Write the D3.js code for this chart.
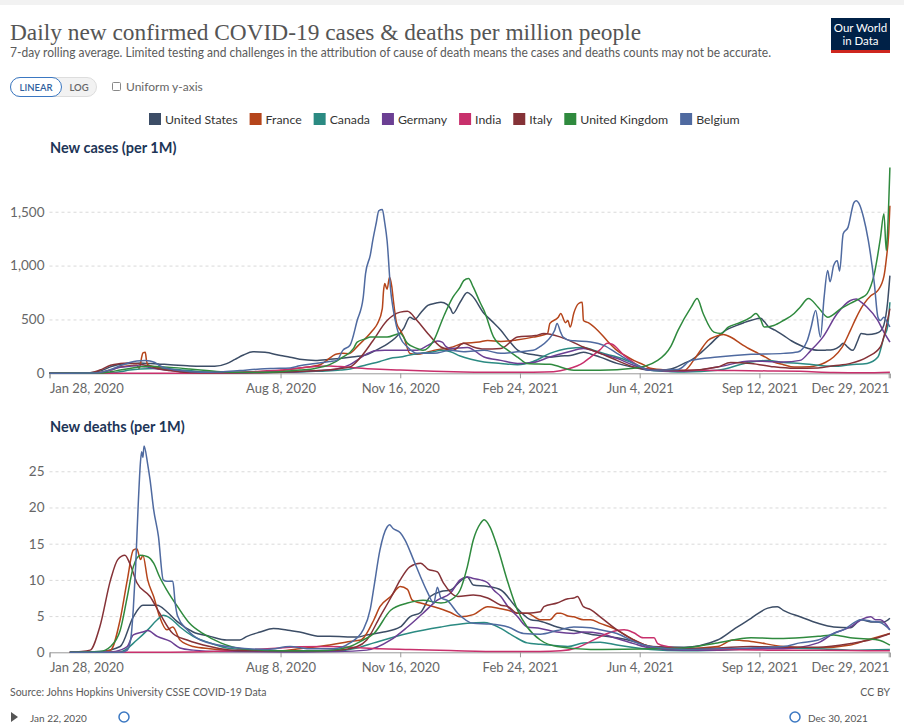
<!DOCTYPE html>
<html><head><meta charset="utf-8">
<script src="https://cdn.jsdelivr.net/npm/d3@7"></script>
<style>body{margin:0;background:#fff}svg{display:block;font-family:Lato,'Noto Sans',sans-serif}</style>
</head><body><svg id="c" width="904" height="725"></svg>
<script>
// ---------- DATA ----------
const startDate = "2020-01-28";   // day 0 of the [day, value] pairs below
const endDate = "2021-12-30";
const tickDates = ["2020-01-28","2020-08-08","2020-11-16","2021-02-24","2021-06-04","2021-09-12","2021-12-29"];
const tickLabels = ["Jan 28, 2020","Aug 8, 2020","Nov 16, 2020","Feb 24, 2021","Jun 4, 2021","Sep 12, 2021","Dec 29, 2021"];
const countries = ["United States","France","Canada","Germany","India","Italy","United Kingdom","Belgium"];
const colors = ["#3c4d66","#b5451b","#2b8a82","#6b3f93","#c8306c","#853237","#2f8a3e","#4f6aa0"];
const casesTicks = [0,500,1000,1500];
const deathsTicks = [0,5,10,15,20,25];

// New cases per million, [day since Jan 28 2020, value]
const casesUS = [[0,0],[26,1],[34,5],[42,20],[51,60],[59,85],[67,90],[76,95],[84,90],[92,85],[101,80],[115,70],[126,65],[138,65],[148,90],[155,130],[162,170],[170,200],[180,195],[193,165],[201,150],[209,130],[222,120],[234,130],[251,150],[264,170],[272,210],[282,270],[289,330],[296,420],[301,520],[305,500],[310,560],[316,630],[322,650],[327,660],[332,640],[335,600],[337,555],[343,660],[349,750],[353,720],[363,555],[370,480],[377,400],[384,300],[391,215],[398,185],[406,170],[418,150],[427,160],[435,165],[446,195],[452,180],[460,150],[474,92],[488,55],[502,28],[510,30],[519,40],[530,92],[537,130],[544,190],[551,260],[558,336],[565,400],[573,440],[580,470],[587,495],[594,510],[597,480],[600,440],[606,400],[613,352],[620,300],[627,260],[634,230],[642,213],[648,215],[655,222],[660,250],[663,280],[667,240],[671,213],[675,300],[678,370],[684,360],[690,370],[694,390],[697,450],[700,650],[702,907]];
const casesFrance = [[0,0],[34,2],[42,8],[51,30],[59,60],[67,70],[73,75],[75,45],[77,150],[78,190],[80,195],[81,120],[82,80],[88,60],[95,45],[109,20],[126,10],[151,8],[176,10],[193,25],[209,50],[226,80],[240,180],[245,185],[250,182],[258,259],[265,336],[270,400],[274,463],[278,601],[279,760],[280,833],[282,780],[284,892],[286,800],[287,700],[290,463],[293,400],[296,336],[301,185],[307,177],[314,190],[321,213],[335,240],[346,278],[359,290],[366,305],[377,296],[390,310],[404,336],[416,370],[418,463],[425,520],[427,555],[431,470],[433,490],[435,429],[438,560],[442,648],[445,660],[446,490],[450,470],[458,398],[466,300],[474,213],[480,170],[488,120],[496,80],[502,46],[515,30],[530,25],[538,120],[543,200],[550,305],[556,340],[563,361],[570,330],[577,278],[584,230],[592,185],[598,150],[605,105],[613,80],[622,58],[635,60],[642,74],[648,100],[655,151],[662,240],[669,398],[674,520],[680,640],[686,720],[692,770],[697,900],[699,1060],[701,1300],[702,1555]];
const casesCanada = [[0,0],[42,1],[51,5],[59,15],[67,30],[76,40],[88,45],[101,40],[117,25],[126,15],[143,8],[168,8],[193,10],[209,12],[226,20],[243,30],[251,40],[265,80],[276,110],[285,140],[293,151],[301,170],[310,185],[321,200],[327,213],[335,200],[343,160],[352,130],[363,105],[377,92],[391,80],[404,110],[418,185],[433,231],[446,240],[455,213],[466,175],[474,151],[488,92],[502,28],[519,15],[530,12],[558,28],[586,105],[600,120],[613,100],[627,92],[655,65],[669,80],[683,92],[692,151],[697,336],[700,429],[702,660]];
const casesGermany = [[0,0],[34,1],[42,5],[51,30],[59,55],[67,65],[73,70],[80,60],[88,45],[101,25],[117,12],[134,6],[159,5],[176,8],[193,12],[209,15],[226,25],[240,40],[251,80],[258,130],[265,180],[272,210],[280,215],[293,213],[307,215],[316,259],[324,300],[328,290],[331,250],[335,231],[349,240],[363,151],[377,120],[391,92],[404,100],[418,151],[433,197],[446,231],[460,185],[474,139],[488,74],[502,28],[530,19],[558,58],[586,114],[613,105],[627,120],[636,213],[646,336],[658,555],[669,676],[674,690],[678,660],[683,614],[692,490],[697,382],[702,290]];
const casesIndia = [[0,0],[126,1],[151,5],[176,20],[193,30],[209,50],[226,65],[234,68],[243,62],[257,50],[276,38],[293,30],[321,20],[346,13],[377,9],[404,10],[421,15],[433,40],[446,100],[452,150],[460,220],[466,280],[470,270],[480,167],[488,100],[496,46],[508,30],[519,25],[544,28],[572,25],[600,22],[627,18],[655,8],[680,5],[702,10]];
const casesItaly = [[0,0],[26,0],[34,5],[42,30],[51,75],[59,90],[65,95],[70,92],[76,85],[84,65],[92,40],[101,25],[109,12],[126,6],[151,4],[176,5],[193,10],[209,20],[226,25],[240,40],[251,60],[260,151],[270,300],[282,490],[293,568],[299,575],[307,490],[316,370],[327,244],[337,213],[346,278],[354,244],[363,225],[377,230],[391,336],[406,350],[413,370],[427,336],[446,244],[460,185],[474,120],[488,58],[502,35],[530,25],[558,58],[569,100],[586,92],[605,60],[622,46],[642,50],[655,70],[669,92],[683,151],[694,244],[702,600]];
const casesUK = [[0,0],[42,2],[51,15],[59,30],[67,45],[76,60],[84,65],[92,60],[101,55],[117,40],[126,30],[143,15],[159,10],[176,10],[193,15],[209,30],[222,45],[234,80],[245,150],[254,231],[257,290],[264,320],[268,336],[275,336],[282,336],[293,370],[299,278],[307,231],[312,213],[321,305],[329,521],[337,707],[343,800],[346,861],[350,880],[354,800],[360,650],[363,583],[371,336],[383,213],[391,150],[399,92],[418,83],[438,28],[460,28],[488,46],[508,120],[519,250],[525,398],[536,614],[541,694],[546,555],[555,382],[561,370],[567,429],[575,463],[586,521],[590,555],[594,500],[597,429],[605,444],[613,490],[622,555],[627,614],[634,694],[642,614],[650,521],[661,600],[669,650],[678,700],[683,740],[689,925],[694,1250],[697,1481],[699,1139],[700,1300],[702,1910]];
const casesBelgium = [[0,0],[34,2],[42,8],[51,35],[59,70],[67,100],[73,115],[80,120],[84,115],[88,100],[92,70],[101,40],[109,25],[126,10],[143,12],[159,25],[176,40],[187,45],[201,50],[209,70],[222,90],[234,110],[240,120],[245,213],[251,260],[257,490],[262,700],[264,925],[268,1100],[270,1231],[273,1400],[275,1509],[278,1520],[280,1400],[282,1231],[285,768],[287,600],[290,429],[293,330],[299,244],[307,185],[321,185],[335,213],[346,200],[363,213],[377,185],[391,200],[404,213],[410,250],[416,305],[422,400],[424,463],[427,380],[429,336],[435,305],[441,300],[452,290],[463,259],[474,185],[488,92],[502,28],[525,35],[536,120],[558,151],[586,176],[613,185],[625,197],[633,305],[636,420],[640,583],[644,336],[647,700],[650,954],[652,850],[655,1000],[658,1046],[660,950],[663,1296],[667,1355],[672,1586],[674,1602],[676,1580],[680,1447],[684,1231],[689,833],[692,521],[694,490],[697,520],[700,470],[702,430]];

// New deaths per million, [day since Jan 28 2020, value]
const deathsUS = [[17,0],[42,0.1],[59,0.8],[70,4.9],[78,6.5],[90,6.5],[98,5.6],[107,4.2],[120,2.8],[134,2.2],[148,1.7],[159,1.7],[165,2.2],[176,2.8],[187,3.3],[201,3.0],[209,2.8],[226,2.2],[234,2.2],[257,2.1],[265,2.4],[279,2.8],[293,3.5],[301,4.9],[310,5.5],[318,7.7],[327,8.4],[335,8.6],[343,9.8],[349,10.4],[354,9.3],[366,9.1],[377,8.6],[391,6.0],[402,4.5],[410,4.3],[424,3.5],[438,3.0],[452,2.5],[474,2.0],[488,1.5],[502,0.8],[530,0.7],[558,1.7],[571,3.1],[586,4.7],[600,6.1],[608,6.3],[613,5.8],[627,4.9],[642,4.0],[655,3.5],[669,3.4],[678,4.5],[686,4.2],[697,4.2],[702,4.7]];
const deathsFrance = [[17,0],[42,0.05],[51,0.3],[59,4.5],[65,10],[70,14.1],[73,14.3],[76,12.8],[78,13.4],[82,10],[87,7.7],[92,4.9],[98,3.1],[103,3.5],[109,1.7],[120,0.8],[134,0.5],[160,0.2],[193,0.2],[209,0.5],[234,1],[251,1.5],[260,1.7],[271,4.5],[276,6.3],[285,7.7],[293,9.1],[299,8.7],[303,7.2],[310,6.8],[321,6.3],[335,5.5],[343,4.9],[354,5.2],[366,6.3],[377,6],[383,5.8],[391,5.4],[399,5.4],[410,4.5],[418,4.5],[424,5.4],[427,5.4],[433,5],[438,4.9],[446,4.5],[452,4.5],[460,4],[474,3.1],[488,1.7],[502,0.8],[530,0.5],[558,0.8],[571,1.7],[586,1.5],[613,0.8],[642,0.6],[669,1],[683,1.7],[702,2.6]];
const deathsCanada = [[17,0],[59,0.05],[73,1.7],[82,3.1],[90,4.5],[95,5.1],[101,4.7],[109,3.5],[120,2.2],[134,1.3],[148,0.6],[168,0.3],[209,0.1],[240,0.2],[257,0.6],[271,1.3],[299,2.6],[327,3.5],[349,4],[363,4.1],[377,3.3],[388,2.2],[399,1.3],[410,1.1],[424,0.9],[433,0.8],[446,1.3],[460,1.4],[474,1.0],[502,0.4],[530,0.2],[558,0.3],[586,0.5],[613,0.6],[642,0.5],[669,0.3],[702,0.4]];
const deathsGermany = [[17,0],[51,0.05],[59,0.3],[65,0.8],[70,2.4],[78,2.8],[82,3.0],[90,2.2],[101,1.5],[109,0.6],[120,0.3],[143,0.1],[193,0.05],[240,0.1],[265,0.3],[285,1.7],[299,3.5],[312,5.4],[324,7.2],[335,8.2],[343,10],[349,10.4],[354,10.2],[360,10],[366,9.6],[371,8.6],[377,7.7],[383,6.3],[391,4.9],[399,3.5],[410,3.3],[424,2.8],[438,2.6],[446,2.8],[460,2.6],[474,1.9],[488,1.2],[502,0.6],[530,0.3],[558,0.3],[586,0.5],[613,0.5],[642,1.3],[655,2.6],[669,3.5],[678,4.5],[686,4.9],[690,4.5],[694,4.5],[702,3.1]];
const deathsIndia = [[17,0],[101,0.02],[134,0.1],[168,0.35],[193,0.6],[209,0.75],[234,0.8],[251,0.7],[276,0.5],[301,0.4],[335,0.25],[377,0.1],[410,0.1],[427,0.2],[440,0.6],[452,1.5],[466,2.6],[474,3.0],[480,3.1],[488,2.7],[496,2.0],[505,2.0],[508,1.2],[516,0.8],[530,0.5],[558,0.4],[600,0.3],[642,0.3],[702,0.2]];
const deathsItaly = [[17,0],[34,0.3],[42,3.5],[51,10],[57,12.8],[63,13.4],[67,12.3],[73,9.6],[84,7.7],[92,5.4],[103,2.6],[115,1.7],[134,0.8],[160,0.2],[209,0.2],[240,0.3],[257,0.8],[265,1.7],[276,4.9],[285,7.5],[293,10],[301,11.8],[310,12.3],[316,11.5],[324,11.1],[329,9.6],[341,7.7],[354,7.9],[366,7.5],[377,6.5],[383,6.3],[391,5.4],[399,5.4],[410,5.6],[413,6.3],[424,6.8],[433,7.4],[438,7.5],[441,7.7],[446,6.3],[452,5.9],[460,4.9],[474,3.1],[488,1.7],[502,0.8],[530,0.5],[558,0.6],[586,0.8],[613,0.7],[642,0.7],[669,1.2],[692,2],[702,2.6]];
const deathsUK = [[17,0],[42,0.1],[51,0.8],[59,3],[65,7.7],[70,11.8],[76,13.4],[82,13.2],[87,12.3],[92,10.4],[98,8.6],[107,6.3],[117,4],[128,2.6],[143,1.3],[160,0.5],[193,0.2],[226,0.2],[251,0.8],[262,1.7],[271,2.6],[285,5.8],[299,6.8],[312,7.2],[327,6.8],[335,7.2],[343,8.6],[349,11.8],[354,15.5],[360,17.8],[363,18.3],[368,17.3],[374,14.6],[383,9.6],[391,5.8],[399,3.5],[410,1.7],[424,0.8],[452,0.4],[502,0.5],[530,0.6],[558,1.3],[586,2.0],[613,1.9],[642,2.2],[655,2.4],[669,2.0],[692,1.7],[702,1.0]];
const deathsBelgium = [[17,0],[60,0],[65,0.3],[68,2],[70,6],[72,12],[74,20],[76,26.3],[77,27.7],[78,26.9],[79,28.5],[82,26],[84,23.8],[87,19.7],[91,16],[95,10],[98,9.8],[103,9.8],[105,6.8],[107,5],[115,3.1],[126,1.7],[153,0.7],[182,0.4],[201,0.8],[215,0.5],[237,0.5],[251,1.3],[262,3.1],[268,6],[271,9],[276,14.1],[282,17.3],[284,17.6],[287,17.1],[293,16.5],[297,15.5],[304,12.8],[310,10.4],[316,8.2],[321,6.8],[324,9],[327,7.5],[332,7.2],[341,5.4],[354,4],[368,3.9],[383,3.5],[396,2.6],[410,2.5],[424,3],[438,3.5],[452,3.4],[460,3.1],[474,2.6],[488,1.5],[502,0.8],[530,0.4],[558,0.5],[586,0.6],[613,0.8],[627,1.3],[642,1.7],[655,2.6],[663,3.1],[678,4.5],[686,4.3],[694,4.1],[702,3.1]];

const casesSeries = [casesUS,casesFrance,casesCanada,casesGermany,casesIndia,casesItaly,casesUK,casesBelgium];
const deathsSeries = [deathsUS,deathsFrance,deathsCanada,deathsGermany,deathsIndia,deathsItaly,deathsUK,deathsBelgium];

// ---------- DRAW ----------
const svg = d3.select("#c");
const parse = d3.utcParse("%Y-%m-%d");
const t0 = parse(startDate);
const dayDate = d => new Date(t0.getTime() + d*864e5);
const x = d3.scaleUtc().domain([t0, parse(endDate)]).range([49.5, 889.9]);

svg.append("rect").attr("x",0).attr("y",0).attr("width",904).attr("height",5).attr("fill","#f2f2f2");

// Title / subtitle
svg.append("text").attr("x",10).attr("y",40).attr("font-family","'Liberation Serif','DejaVu Serif',serif")
  .attr("font-size",24).attr("fill","#555").attr("textLength",631).attr("lengthAdjust","spacingAndGlyphs")
  .text("Daily new confirmed COVID-19 cases & deaths per million people");
svg.append("text").attr("x",10).attr("y",57).attr("font-size",12.5).attr("fill","#5b5b5b")
  .attr("textLength",761).attr("lengthAdjust","spacingAndGlyphs")
  .text("7-day rolling average. Limited testing and challenges in the attribution of cause of death means the cases and deaths counts may not be accurate.");

// Logo
const logo = svg.append("g");
logo.append("rect").attr("x",831).attr("y",18).attr("width",59).attr("height",35).attr("fill","#002147");
logo.append("rect").attr("x",831).attr("y",50).attr("width",59).attr("height",3).attr("fill","#ce261e");
logo.append("text").attr("x",860.5).attr("y",32).attr("text-anchor","middle").attr("fill","#fff").attr("font-size",11.5).text("Our World");
logo.append("text").attr("x",860.5).attr("y",45).attr("text-anchor","middle").attr("fill","#fff").attr("font-size",11.5).text("in Data");

// Controls
svg.append("rect").attr("x",10.5).attr("y",77.5).attr("width",86).attr("height",19).attr("rx",9.5).attr("fill","#f2f2f2").attr("stroke","#ddd");
svg.append("rect").attr("x",10.5).attr("y",77.5).attr("width",51).attr("height",19).attr("rx",9.5).attr("fill","#fff").attr("stroke","#3b78c2");
svg.append("text").attr("x",36).attr("y",91).attr("text-anchor","middle").attr("font-size",9.5).attr("fill","#2f5f9e").attr("font-weight",600).text("LINEAR");
svg.append("text").attr("x",79).attr("y",91).attr("text-anchor","middle").attr("font-size",9.5).attr("fill","#666").attr("font-weight",600).text("LOG");
svg.append("rect").attr("x",112.5).attr("y",82.5).attr("width",8).attr("height",8).attr("rx",1).attr("fill","#fff").attr("stroke","#888");
svg.append("text").attr("x",126).attr("y",91).attr("font-size",12).attr("fill","#666").text("Uniform y-axis");

// Legend
let lx = 149;
countries.forEach((c,i)=>{
  svg.append("rect").attr("x",lx).attr("y",113).attr("width",12).attr("height",12).attr("fill",colors[i]);
  const t = svg.append("text").attr("x",lx+16).attr("y",124).attr("font-size",12.3).attr("fill","#333").text(c);
  lx += 16 + t.node().getComputedTextLength() + 12;
});

function panel(title, titleY, series, yDomainMax, yTop, yZero, ticks, fmt){
  const y = d3.scaleLinear().domain([0, yDomainMax]).range([yZero, yTop]);
  svg.append("text").attr("x",50).attr("y",titleY).attr("font-size",14.5).attr("font-weight",700).attr("fill","#1d3557").text(title);
  const ya = svg.append("g").attr("transform","translate(49.5,0)")
    .call(d3.axisLeft(y).tickValues(ticks).tickFormat(fmt).tickSize(-840).tickPadding(5));
  ya.select(".domain").remove();
  ya.selectAll(".tick line").attr("stroke","#d9d9d9").attr("stroke-dasharray","3,3").filter(d=>d===0).remove();
  ya.selectAll(".tick text").attr("font-size",13.5).attr("fill","#666").attr("font-family","Lato,'Noto Sans',sans-serif");
  const xa = svg.append("g").attr("transform",`translate(0,${yZero})`)
    .call(d3.axisBottom(x).tickValues(tickDates.map(parse)).tickFormat((d,i)=>tickLabels[i]).tickSize(5).tickPadding(5));
  xa.select(".domain").attr("stroke","#999");
  xa.selectAll(".tick line").attr("stroke","#999");
  xa.selectAll(".tick text").attr("font-size",13).attr("fill","#666").attr("font-family","Lato,'Noto Sans',sans-serif")
    .attr("text-anchor",(d,i)=> i===0?"start": (i===tickDates.length-1?"end":"middle"));
  const line = d3.line().x(d=>x(dayDate(d[0]))).y(d=>y(d[1])).curve(d3.curveMonotoneX);
  series.forEach((s,i)=>{
    svg.append("path").datum(s).attr("d",line).attr("fill","none").attr("stroke",colors[i])
      .attr("stroke-width",1.5).attr("stroke-linejoin","round");
  });
}
panel("New cases (per 1M)",153,casesSeries,1920,166.5,373.3,casesTicks,d3.format(","));
panel("New deaths (per 1M)",432,deathsSeries,28.6,445.2,652.3,deathsTicks,d3.format("d"));

// Footer
svg.append("text").attr("x",10).attr("y",696).attr("font-size",10.5).attr("fill","#5b5b5b").text("Source: Johns Hopkins University CSSE COVID-19 Data");
svg.append("text").attr("x",890).attr("y",696).attr("text-anchor","end").attr("font-size",10.5).attr("fill","#5b5b5b").text("CC BY");
// Timeline controls
svg.append("path").attr("d","M11,712 L18,717 L11,722 Z").attr("fill","#555");
svg.append("text").attr("x",30).attr("y",722).attr("font-size",10).attr("fill","#555").text("Jan 22, 2020");
svg.append("circle").attr("cx",124).attr("cy",717).attr("r",5).attr("fill","#fff").attr("stroke","#3b78c2").attr("stroke-width",1.5);
svg.append("circle").attr("cx",795).attr("cy",717).attr("r",5).attr("fill","#fff").attr("stroke","#3b78c2").attr("stroke-width",1.5);
svg.append("text").attr("x",808).attr("y",722).attr("font-size",10).attr("fill","#555").text("Dec 30, 2021");
</script></body></html>
